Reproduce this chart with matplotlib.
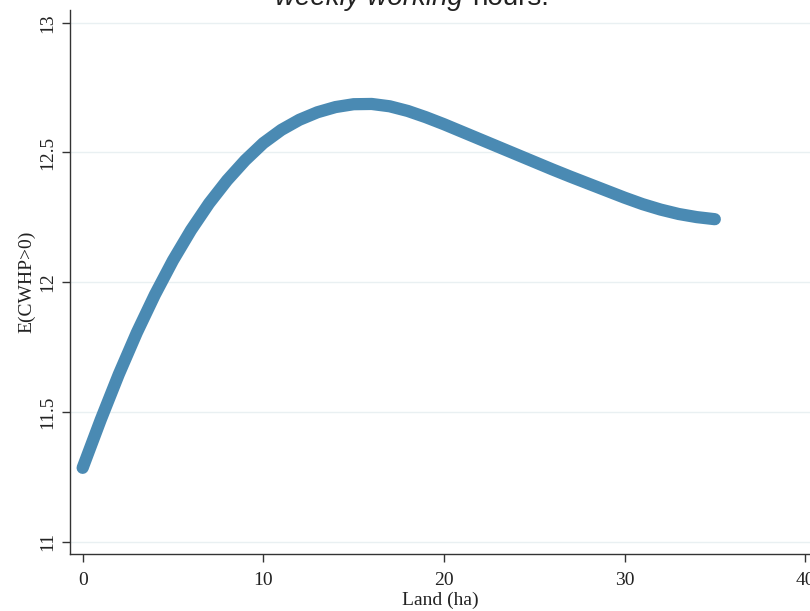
import matplotlib
matplotlib.use("Agg")
import matplotlib.pyplot as plt

# Data
land = list(range(0, 36))
e_cwhp = [11.285, 11.470, 11.645, 11.806, 11.952, 12.084, 12.201, 12.304, 12.393, 12.470,
          12.536, 12.587, 12.626, 12.655, 12.675, 12.686, 12.687, 12.678, 12.660, 12.636,
          12.609, 12.580, 12.551, 12.522, 12.493, 12.464, 12.435, 12.407, 12.380, 12.353,
          12.326, 12.301, 12.280, 12.263, 12.251, 12.243]
xticks = [0, 10, 20, 30, 40]
yticks = [11, 11.5, 12, 12.5, 13]
ytick_labels = ["11", "11.5", "12", "12.5", "13"]

W, H = 810, 611
fig = plt.figure(figsize=(W / 100, H / 100), dpi=100)
ax = fig.add_axes([70 / W, (H - 554) / H, 740 / W, 544 / H])

ax.plot(land, e_cwhp, color="#4a8ab3", lw=8.8, solid_capstyle="round",
        solid_joinstyle="round", zorder=3)

ax.set_xlim(-0.70, 40.27)
ax.set_ylim(10.953, 13.049)
ax.set_xticks(xticks)
ax.set_yticks(yticks)
ax.set_yticklabels(ytick_labels, rotation=90, va="center")

serif = ["Liberation Serif", "DejaVu Serif"]
for lab in ax.get_xticklabels() + ax.get_yticklabels():
    lab.set_family(serif)
    lab.set_fontsize(14)
    lab.set_color("#222222")

ax.grid(axis="y", color="#e9f0f2", lw=1.0, zorder=0)
ax.set_axisbelow(True)
for s in ["top", "right"]:
    ax.spines[s].set_visible(False)
for s in ["left", "bottom"]:
    ax.spines[s].set_color("#333333")
    ax.spines[s].set_linewidth(1.0)
ax.tick_params(axis="both", length=6, width=1.0, color="#333333", pad=4)
ax.tick_params(axis="x", pad=7)

ax.set_xlabel("Land (ha)", family=serif, fontsize=14, color="#222222", labelpad=2)
ax.set_ylabel("E(CWHP>0)", family=serif, fontsize=14, color="#222222", labelpad=3)

# Cropped title
fig.text(463 / W, 1 - 5 / H, "weekly working", ha="right", va="baseline",
         style="italic", family=["Liberation Sans", "DejaVu Sans"], fontsize=20,
         color="#222222")
fig.text(472 / W, 1 - 5 / H, "hours.", ha="left", va="baseline",
         family=["Liberation Sans", "DejaVu Sans"], fontsize=20, color="#222222")

fig.savefig("out.png", dpi=100)
